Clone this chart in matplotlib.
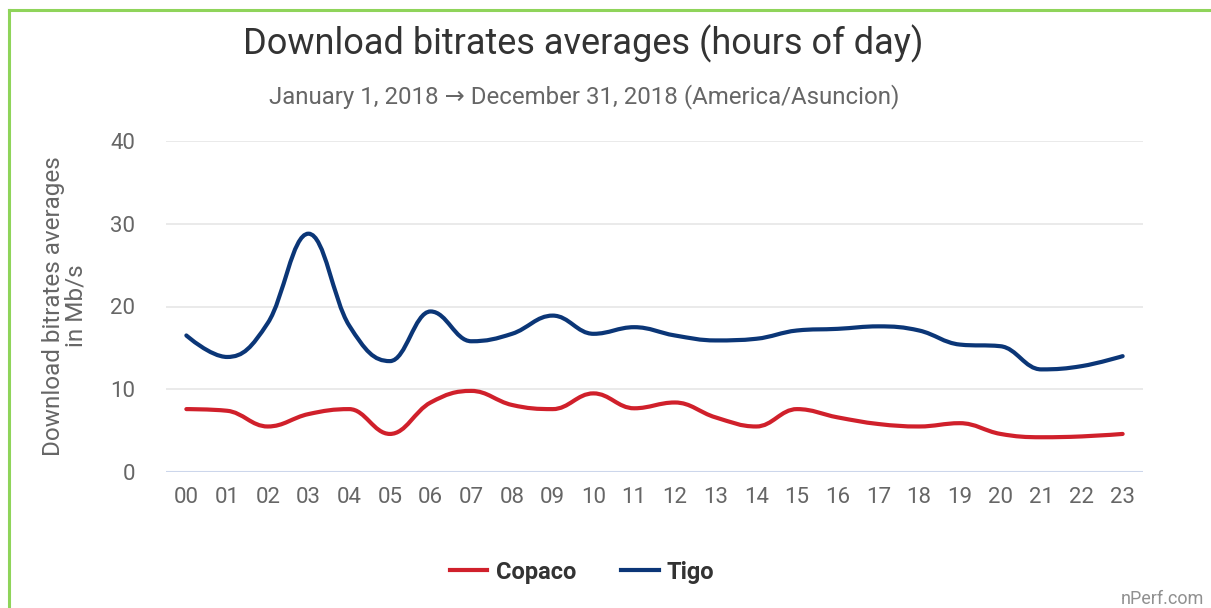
import numpy as np
import matplotlib
matplotlib.use("Agg")
import matplotlib.pyplot as plt
from matplotlib.path import Path
from matplotlib.patches import PathPatch
from matplotlib.lines import Line2D

plt.rcParams['font.family'] = ['Roboto', 'DejaVu Sans']

# =========================================================
# Data
# =========================================================

hours = ["00", "01", "02", "03", "04", "05", "06", "07", "08", "09", "10", "11",
         "12", "13", "14", "15", "16", "17", "18", "19", "20", "21", "22", "23"]

copaco = [7.6, 7.4, 5.5, 7.0, 7.6, 4.6, 8.4, 9.8, 8.1, 7.6, 9.5, 7.7,
          8.4, 6.6, 5.5, 7.6, 6.6, 5.8, 5.5, 5.9, 4.6, 4.2, 4.3, 4.6]

tigo = [16.5, 13.9, 18.0, 28.8, 17.7, 13.4, 19.4, 15.8, 16.7, 18.9, 16.7, 17.5,
        16.5, 15.9, 16.1, 17.1, 17.3, 17.6, 17.1, 15.4, 15.2, 12.4, 12.8, 14.0]

series_names = ["Copaco", "Tigo"]
series_colors = ["#d0202b", "#0b3677"]
y_ticks = [0, 10, 20, 30, 40]


# =========================================================
# Spline path (Highcharts-style bezier smoothing)
# =========================================================

def spline_path(xs, ys, smoothing=1.5):
    xs = np.asarray(xs, dtype=float)
    ys = np.asarray(ys, dtype=float)
    n = len(xs)
    denom = smoothing + 1
    left = [None] * n
    right = [None] * n
    for i in range(1, n - 1):
        px, py = xs[i], ys[i]
        lx, ly = xs[i - 1], ys[i - 1]
        nx, ny = xs[i + 1], ys[i + 1]
        lcx = (smoothing * px + lx) / denom
        lcy = (smoothing * py + ly) / denom
        rcx = (smoothing * px + nx) / denom
        rcy = (smoothing * py + ny) / denom
        if rcx != lcx:
            corr = ((rcy - lcy) * (rcx - px)) / (rcx - lcx) + py - rcy
            lcy += corr
            rcy += corr
        if lcy > max(ly, py):
            lcy = max(ly, py)
            rcy = 2 * py - lcy
        elif lcy < min(ly, py):
            lcy = min(ly, py)
            rcy = 2 * py - lcy
        if rcy > max(py, ny):
            rcy = max(py, ny)
            lcy = 2 * py - rcy
        elif rcy < min(py, ny):
            rcy = min(py, ny)
            lcy = 2 * py - rcy
        left[i] = (lcx, lcy)
        right[i] = (rcx, rcy)

    verts = [(xs[0], ys[0])]
    codes = [Path.MOVETO]
    for i in range(1, n):
        c1 = right[i - 1] if right[i - 1] is not None else (xs[i - 1], ys[i - 1])
        c2 = left[i] if left[i] is not None else (xs[i], ys[i])
        verts += [c1, c2, (xs[i], ys[i])]
        codes += [Path.CURVE4] * 3
    return Path(verts, codes)


# =========================================================
# Figure
# =========================================================

fig = plt.figure(figsize=(12.11, 6.08), dpi=100)
ax = fig.add_axes([166 / 1211, 1 - 472 / 608, 977 / 1211, 331 / 608])

x = np.arange(len(hours))
for vals, color in zip([copaco, tigo], series_colors):
    patch = PathPatch(spline_path(x, vals), facecolor="none", edgecolor=color,
                      linewidth=3.0, capstyle="round", joinstyle="round", zorder=3)
    ax.add_patch(patch)

ax.set_xlim(-0.5, len(hours) - 0.5)
ax.set_ylim(0, 40)
ax.set_xticks(x)
ax.set_xticklabels(hours)
ax.set_yticks(y_ticks)

for yv in y_ticks[1:]:
    ax.axhline(yv, color="#e6e6e6", linewidth=1.2, zorder=1)
ax.axhline(0, color="#ccd6eb", linewidth=1.5, zorder=2)

for s in ax.spines.values():
    s.set_visible(False)
ax.tick_params(axis="both", length=0, labelsize=16, colors="#666666")
ax.tick_params(axis="x", pad=11)
ax.tick_params(axis="y", pad=22)

fig.text(65 / 1211, 1 - 306 / 608, "Download bitrates averages\nin Mb/s",
         rotation=90, ha="center", va="center", fontsize=17.5, color="#666666",
         linespacing=1.0)

fig.text(583 / 1211, 1 - 44 / 608, "Download bitrates averages (hours of day)",
         ha="center", va="center", fontsize=26, color="#333333")
fig.text(584 / 1211, 1 - 97 / 608,
         "January 1, 2018 \u2192 December 31, 2018 (America/Asuncion)",
         ha="center", va="center", fontsize=17.3, color="#666666")

handles = [Line2D([], [], color=c, linewidth=3) for c in series_colors]
fig.legend(handles, series_names, loc="center", bbox_to_anchor=(582 / 1211, 1 - 572 / 608),
           ncol=2, frameon=False, handlelength=1.6, handletextpad=0.35, columnspacing=1.9,
           prop={"weight": "bold", "size": 17}, labelcolor="#333333")

fig.text(1204 / 1211, 1 - 599 / 608, "nPerf.com", ha="right", va="center",
         fontsize=13, color="#909090")

# green frame (top and left)
fig.add_artist(Line2D([9 / 1211, 1.0], [1 - 10 / 608, 1 - 10 / 608],
                      color="#8fd45a", linewidth=2.2, transform=fig.transFigure))
fig.add_artist(Line2D([9 / 1211, 9 / 1211], [0, 1 - 10 / 608],
                      color="#8fd45a", linewidth=2.2, transform=fig.transFigure))

fig.savefig("out.png", dpi=100)
